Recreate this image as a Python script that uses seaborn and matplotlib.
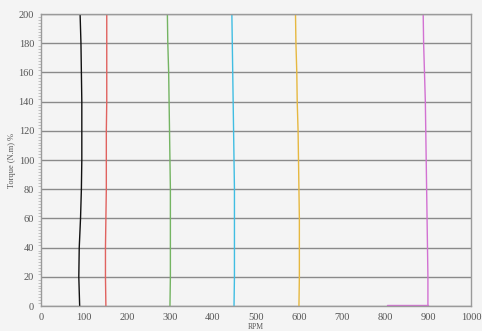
import matplotlib
matplotlib.use('Agg')
import matplotlib.pyplot as plt
import pandas as pd
import seaborn as sns
from matplotlib.ticker import MultipleLocator

# Torque levels (%) at which the speed of each curve was read
torque = [0, 20, 40, 60, 80, 100, 120, 140, 160, 180, 200]

# RPM readings for each speed setting
rpm_90 = [90, 88, 89, 92, 94, 95, 95, 95, 94, 93, 91]
rpm_150 = [151, 150, 150, 151, 152, 152, 152, 153, 153, 153, 153]
rpm_300 = [300, 301, 301, 301, 301, 300, 299, 298, 297, 295, 294]
rpm_450 = [449, 450, 450, 450, 450, 449, 448, 447, 446, 445, 444]
rpm_600 = [600, 601, 601, 601, 600, 599, 598, 596, 595, 593, 592]
rpm_900 = [900, 900, 899, 898, 897, 896, 895, 894, 892, 890, 889]

# small run along the bottom of the 900 rpm curve
tail_rpm = [804, 900]
tail_torque = [0.5, 0.5]

colors = {'90': '#111111', '150': '#e0625f', '300': '#74b462',
          '450': '#40bde2', '600': '#e6b840', '900': '#d271d2'}

curves = {'90': rpm_90, '150': rpm_150, '300': rpm_300,
          '450': rpm_450, '600': rpm_600, '900': rpm_900}

rows = []
for name, vals in curves.items():
    for t, r in zip(torque, vals):
        rows.append({'set': name, 'rpm': r, 'torque': t})
df = pd.DataFrame(rows)
df_tail = pd.DataFrame({'rpm': tail_rpm, 'torque': tail_torque})

sns.set_style('white')
plt.rcParams['font.family'] = ['Liberation Serif', 'DejaVu Serif']

fig = plt.figure(figsize=(4.82, 3.31), dpi=100, facecolor='#f4f4f4')
ax = fig.add_axes([0.085, 0.0755, 0.892, 0.882])
ax.set_facecolor('#f4f4f4')

for name in curves:
    sns.lineplot(data=df[df['set'] == name], x='rpm', y='torque', sort=False,
                 estimator=None, color=colors[name], linewidth=1.0, ax=ax,
                 legend=False)
sns.lineplot(data=df_tail, x='rpm', y='torque', sort=False, estimator=None,
             color=colors['900'], linewidth=1.0, ax=ax, legend=False)

ax.set_xlim(0, 1000)
ax.set_ylim(0, 200)
ax.xaxis.set_major_locator(MultipleLocator(100))
ax.yaxis.set_major_locator(MultipleLocator(20))
ax.yaxis.set_minor_locator(MultipleLocator(2))
ax.grid(axis='y', color='#8a8a8a', linewidth=1.0)
ax.grid(axis='x', visible=False)
ax.set_axisbelow(True)

for s in ax.spines.values():
    s.set_color('#9a9a9a')
    s.set_linewidth(1.0)

ax.tick_params(axis='both', which='major', direction='out', length=3,
               width=0.8, color='#888888', labelsize=7.5, labelcolor='#555555', pad=2)
ax.tick_params(axis='y', which='minor', direction='out', length=2,
               width=0.5, color='#aaaaaa', left=True)

ax.set_xlabel('RPM', fontsize=5.5, color='#555555', labelpad=1)
ax.set_ylabel('Torque (N.m) %', fontsize=6, color='#555555', labelpad=2)

fig.savefig('out.png', dpi=100, facecolor=fig.get_facecolor())
